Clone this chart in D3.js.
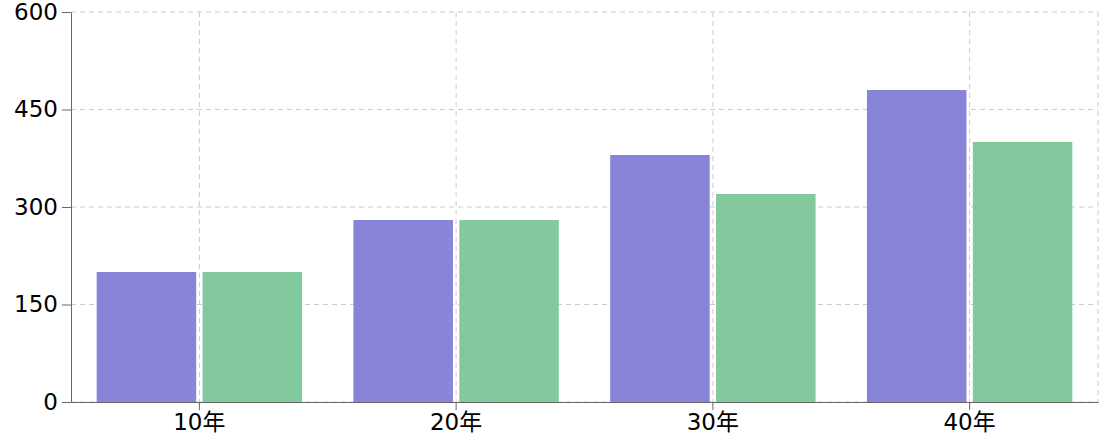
<!DOCTYPE html>
<html>
<head>
<meta charset="utf-8">
<script src="https://cdn.jsdelivr.net/npm/d3@7"></script>
<style>
  body { margin: 0; background: #fff; }
  text { font-family: "DejaVu Sans", "Noto Sans CJK JP", sans-serif; }
</style>
</head>
<body>
<script>
// Data
var categories = ["10年", "20年", "30年", "40年"];
var seriesA = [200, 280, 380, 480];
var seriesB = [200, 280, 320, 400];
var yTicks = [0, 150, 300, 450, 600];

var width = 1112, height = 444;
var margin = {top: 12, right: 14, bottom: 42, left: 71};
var w = width - margin.left - margin.right,
    h = height - margin.top - margin.bottom;

var svg = d3.select("body").append("svg")
    .attr("width", width)
    .attr("height", height)
  .append("g")
    .attr("transform", "translate(" + margin.left + "," + margin.top + ")");

var x = d3.scaleBand().domain(categories).range([0, w]).paddingInner(0.2).paddingOuter(0.1);
var xOuter = d3.scaleBand().domain(categories).range([0, w]);
var y = d3.scaleLinear().domain([0, 600]).range([h, 0]);
var x1 = d3.scaleBand().domain(["a", "b"]).range([0, x.bandwidth()]).paddingInner(0.06);

// Grid
var grid = svg.append("g").attr("stroke", "#ccc").attr("stroke-dasharray", "5 4");
grid.selectAll(".hg").data(yTicks).enter().append("line")
    .attr("x1", 0).attr("x2", w)
    .attr("y1", function (d) { return y(d); })
    .attr("y2", function (d) { return y(d); });
grid.selectAll(".vg").data(categories).enter().append("line")
    .attr("x1", function (d) { return xOuter(d) + xOuter.bandwidth() / 2; })
    .attr("x2", function (d) { return xOuter(d) + xOuter.bandwidth() / 2; })
    .attr("y1", 0).attr("y2", h);
grid.append("line").attr("x1", w).attr("x2", w).attr("y1", 0).attr("y2", h);

// Bars
var groups = svg.selectAll(".grp").data(categories).enter().append("g")
    .attr("transform", function (d) { return "translate(" + (xOuter(d) + (xOuter.bandwidth() - x.bandwidth()) / 2) + ",0)"; });
groups.append("rect")
    .attr("x", x1("a"))
    .attr("width", x1.bandwidth())
    .attr("y", function (d, i) { return y(seriesA[i]); })
    .attr("height", function (d, i) { return h - y(seriesA[i]); })
    .attr("fill", "#8884d8");
groups.append("rect")
    .attr("x", x1("b"))
    .attr("width", x1.bandwidth())
    .attr("y", function (d, i) { return y(seriesB[i]); })
    .attr("height", function (d, i) { return h - y(seriesB[i]); })
    .attr("fill", "#82ca9d");

// Axes
var xAxis = svg.append("g")
    .attr("transform", "translate(0," + h + ")")
    .call(d3.axisBottom(xOuter).tickSizeInner(8).tickSizeOuter(0).tickPadding(4));
var yAxis = svg.append("g")
    .call(d3.axisLeft(y).tickValues(yTicks).tickSizeInner(9).tickSizeOuter(0).tickPadding(4));
[xAxis, yAxis].forEach(function (a) {
  a.select(".domain").attr("stroke", "#666");
  a.selectAll(".tick line").attr("stroke", "#666");
  a.selectAll("text").attr("fill", "#000").style("font-size", "23px")
    .style("font-family", "\"DejaVu Sans\", \"Noto Sans CJK JP\", sans-serif");
});
</script>
</body>
</html>
